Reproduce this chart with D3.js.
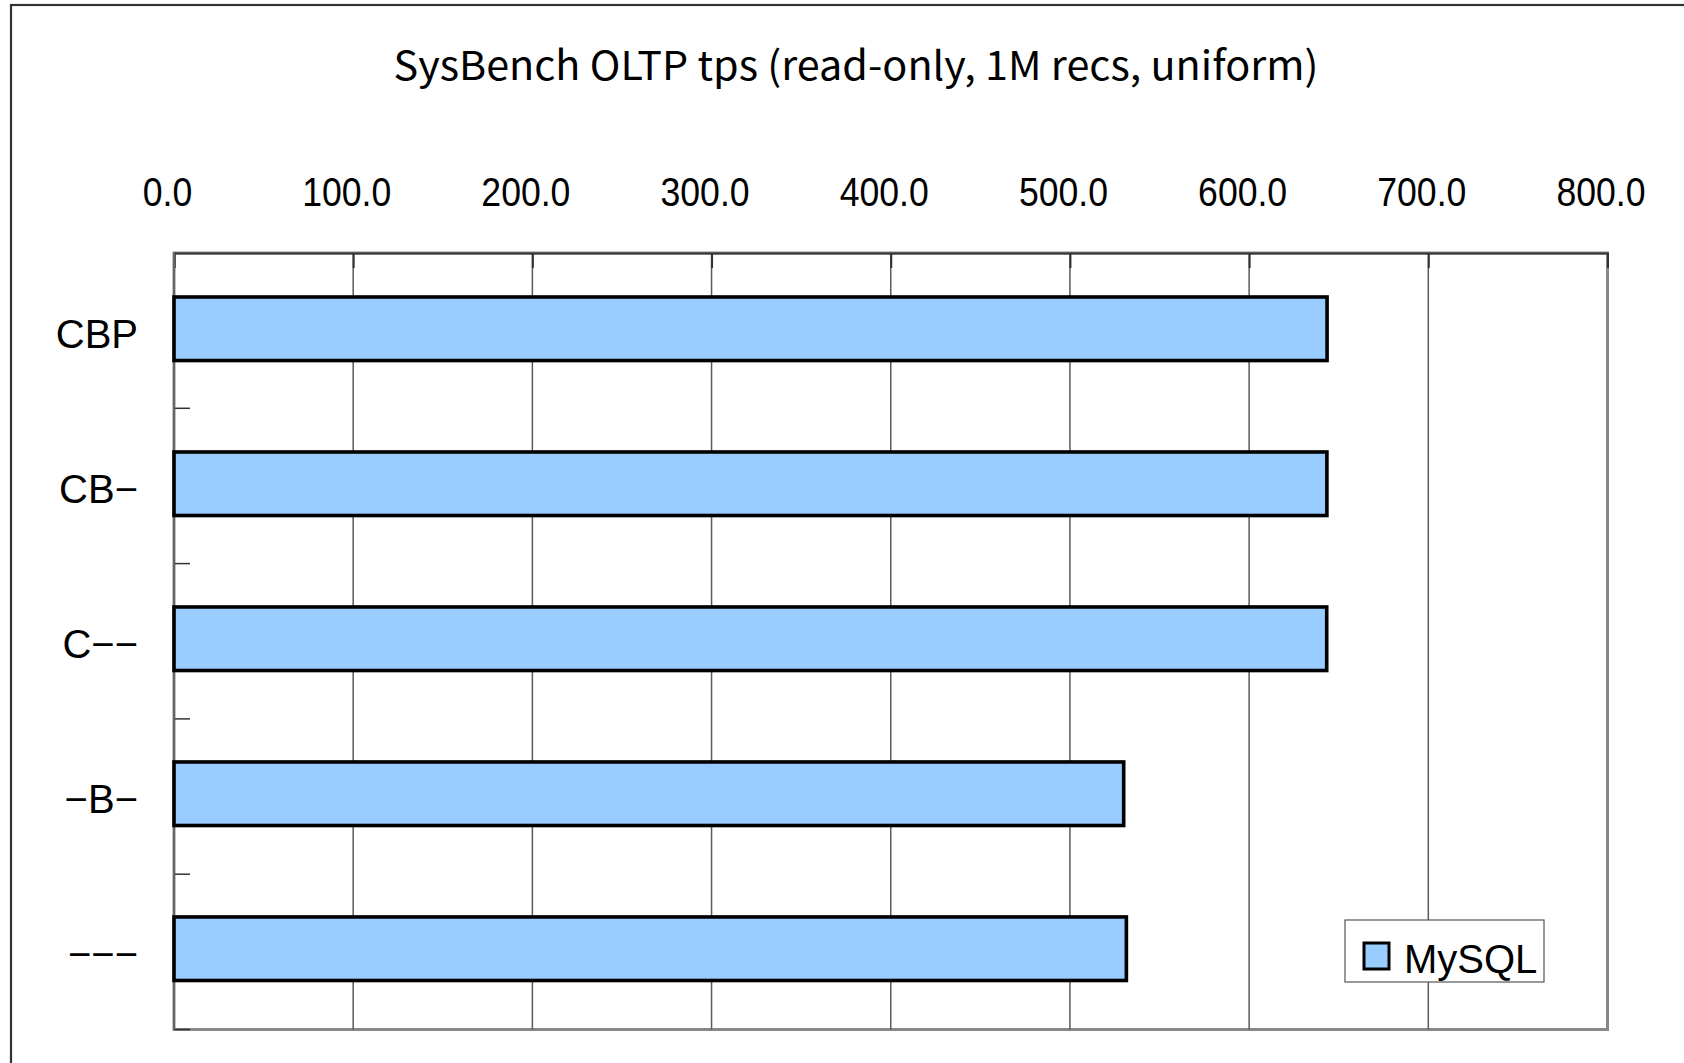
<!DOCTYPE html>
<html>
<head>
<meta charset="utf-8">
<script src="https://cdn.jsdelivr.net/npm/d3@7"></script>
<style>
  html, body { margin: 0; padding: 0; background: #fff; }
  svg { display: block; }
</style>
</head>
<body>
<div id="chart"></div>
<script>
// ---- data ----
const categories = ["CBP", "CB−", "C−−", "−B−", "−−−"];
const seriesName = "MySQL";
const values = [643.5, 643.4, 643.3, 530.0, 531.5];
const xTicks = [0, 100, 200, 300, 400, 500, 600, 700, 800];
const titleText = "SysBench OLTP tps (read-only, 1M recs, uniform)";

// ---- layout ----
const W = 1684, H = 1063;
const plot = { left: 174, top: 253, right: 1607.5, bottom: 1029.5 };
const barColor = "#99CCFF";

const svg = d3.select("#chart").append("svg")
  .attr("width", W).attr("height", H);

svg.append("rect").attr("width", W).attr("height", H).attr("fill", "#fff");

// outer frame (right/bottom edges fall outside the view)
svg.append("rect")
  .attr("x", 11).attr("y", 5)
  .attr("width", W + 20).attr("height", H + 20)
  .attr("fill", "none").attr("stroke", "#333").attr("stroke-width", 2.2);

// title
svg.append("text")
  .attr("x", 856).attr("y", 80)
  .attr("text-anchor", "middle")
  .attr("font-family", "'Noto Sans CJK JP', 'Liberation Sans', sans-serif")
  .attr("font-size", 40)
  .attr("textLength", 925)
  .attr("lengthAdjust", "spacingAndGlyphs")
  .attr("fill", "#000")
  .text(titleText);

const x = d3.scaleLinear().domain([0, 800]).range([plot.left, plot.right]);
const y = d3.scaleBand().domain(categories).range([plot.top, plot.bottom])
  .paddingInner(0.59).paddingOuter(0.3);

// plot background + border
svg.append("rect")
  .attr("x", plot.left).attr("y", plot.top)
  .attr("width", plot.right - plot.left).attr("height", plot.bottom - plot.top)
  .attr("fill", "#fff").attr("stroke", "#888").attr("stroke-width", 3);

// gridlines
svg.append("g").selectAll("line")
  .data(xTicks.filter(t => t > 0 && t < 800))
  .join("line")
  .attr("x1", d => x(d)).attr("x2", d => x(d))
  .attr("y1", plot.top).attr("y2", plot.bottom)
  .attr("stroke", "#5a5a5a").attr("stroke-width", 1.5);

// top axis
const xAxis = d3.axisTop(x).tickValues(xTicks).tickSize(-15).tickPadding(0)
  .tickFormat(d3.format(".1f"));
const gx = svg.append("g").attr("transform", `translate(0,${plot.top})`).call(xAxis);
gx.select(".domain").attr("stroke", "#333").attr("stroke-width", 2);
gx.selectAll(".tick line").attr("stroke", "#333").attr("stroke-width", 2);
gx.selectAll(".tick text")
  .attr("font-family", "'Liberation Sans', Arial, sans-serif")
  .attr("font-size", 40)
  .attr("fill", "#000")
  .attr("transform", "scale(0.89,1)")
  .attr("x", -7 / 0.89)
  .attr("y", 206 - plot.top)
  .attr("dy", null);

// left axis ticks at band boundaries (inward)
const boundaries = d3.range(1, categories.length + 1).map(i => plot.top + i * (plot.bottom - plot.top) / categories.length);
svg.append("g").selectAll("line").data(boundaries).join("line")
  .attr("x1", plot.left).attr("x2", plot.left + 16)
  .attr("y1", d => d).attr("y2", d => d)
  .attr("stroke", "#333").attr("stroke-width", 1.5);
svg.append("line")
  .attr("x1", plot.left).attr("x2", plot.left)
  .attr("y1", plot.top).attr("y2", plot.bottom)
  .attr("stroke", "#666").attr("stroke-width", 2);

// category labels
svg.append("g").selectAll("text").data(categories).join("text")
  .attr("x", 138)
  .attr("y", d => y(d) + y.bandwidth() / 2 + 16.5)
  .attr("text-anchor", "end")
  .attr("font-family", "'Liberation Sans', Arial, sans-serif")
  .attr("font-size", 40)
  .attr("fill", "#000")
  .text(d => d);

// bars
svg.append("g").selectAll("rect")
  .data(categories.map((c, i) => ({ c, v: values[i] })))
  .join("rect")
  .attr("x", x(0))
  .attr("y", d => y(d.c) - 2.5)
  .attr("width", d => x(d.v) - x(0))
  .attr("height", y.bandwidth())
  .attr("fill", barColor)
  .attr("stroke", "#000")
  .attr("stroke-width", 3.6);

// legend
const lg = svg.append("g");
lg.append("rect").attr("x", 1345).attr("y", 920).attr("width", 199).attr("height", 62)
  .attr("fill", "#fff").attr("stroke", "#555").attr("stroke-width", 1.2);
lg.append("rect").attr("x", 1364).attr("y", 943).attr("width", 25).attr("height", 26)
  .attr("fill", barColor).attr("stroke", "#000").attr("stroke-width", 3);
lg.append("text").attr("x", 1404).attr("y", 973)
  .attr("font-family", "'Liberation Sans', Arial, sans-serif")
  .attr("font-size", 40).attr("fill", "#000")
  .text(seriesName);
</script>
</body>
</html>
